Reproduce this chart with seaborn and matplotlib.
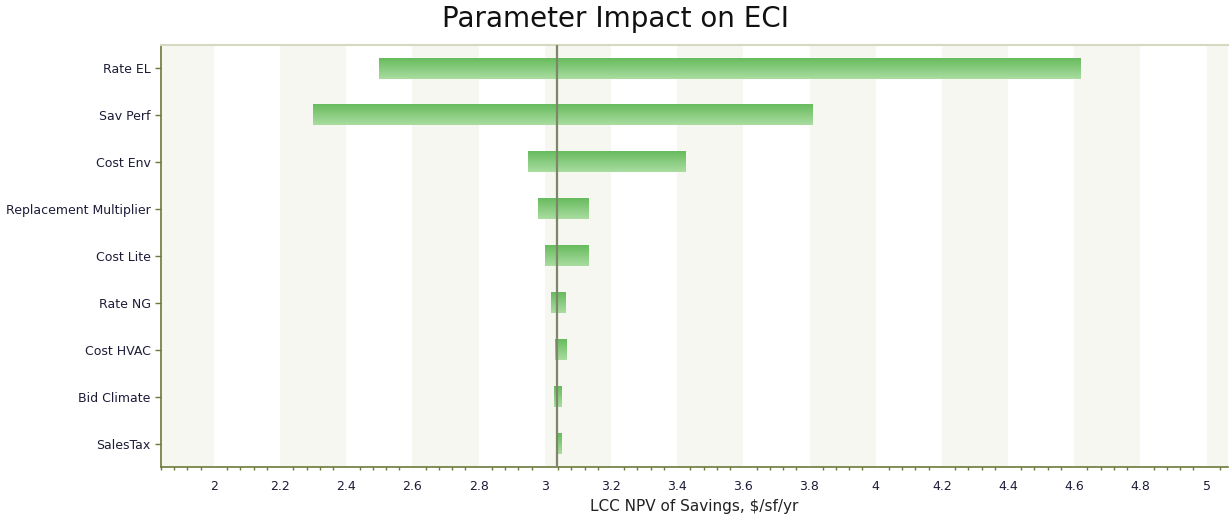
import numpy as np
import matplotlib.pyplot as plt
import seaborn as sns
from matplotlib.colors import LinearSegmentedColormap
from matplotlib.ticker import MultipleLocator

# Tornado chart data
params = ['Rate EL', 'Sav Perf', 'Cost Env', 'Replacement Multiplier', 'Cost Lite',
          'Rate NG', 'Cost HVAC', 'Bid Climate', 'SalesTax']
low_vals = [2.50, 2.30, 2.95, 2.98, 3.00, 3.02, 3.03, 3.027, 3.033]
high_vals = [4.62, 3.81, 3.425, 3.133, 3.13, 3.063, 3.066, 3.051, 3.051]
baseline = 3.038

sns.set_theme(style="white")
plt.rcParams['font.family'] = ['DejaVu Sans']

fig = plt.figure(figsize=(12.31, 5.2), dpi=100)
ax = fig.add_axes([0.1308, 0.1019, 0.8668, 0.8116])

x_min, x_max = 1.84, 5.065
ypos = np.arange(len(params))
bar_h = 0.43

# alternating background bands (shaded on 1.8-2.0, 2.2-2.4, ...)
band_col = '#f6f7f1'
for k in range(9, 26):
    if k % 2 == 1:
        ax.axvspan(k * 0.2, (k + 1) * 0.2, color=band_col, lw=0, zorder=0)

# gradient bars
grad = LinearSegmentedColormap.from_list('g', ['#68bb5e', '#a9dda0'])
g = np.linspace(0, 1, 50).reshape(-1, 1)
for y, lo, hi in zip(ypos, low_vals, high_vals):
    ax.imshow(g, cmap=grad, aspect='auto', interpolation='bicubic',
              extent=[lo, hi, y + bar_h / 2, y - bar_h / 2], zorder=2)

ax.axvline(baseline, color='#7d8668', lw=1.6, zorder=4)

ax.set_xlim(x_min, x_max)
ax.set_ylim(len(params) - 0.5, -0.5)
ax.set_yticks(ypos)
ax.set_yticklabels(params)
ax.xaxis.set_major_locator(MultipleLocator(0.2))
ax.xaxis.set_minor_locator(MultipleLocator(0.04))
ax.set_xticklabels([('%g' % t) for t in ax.get_xticks()])
ax.set_xlim(x_min, x_max)

ax.tick_params(axis='x', which='major', direction='out', length=3, width=1,
               color='#6b7a3a', labelsize=9, labelcolor='#1c1c38', pad=6)
ax.tick_params(axis='x', which='minor', direction='out', length=2, width=1,
               color='#6b7a3a', bottom=True)
ax.tick_params(axis='y', direction='out', length=4, width=1, color='#6b7a3a',
               labelsize=9, labelcolor='#1c1c38', left=True)

for s in ['left', 'bottom']:
    ax.spines[s].set_color('#6b7a3a')
    ax.spines[s].set_linewidth(1.2)
ax.spines['top'].set_color('#d5d9bf')
ax.spines['top'].set_linewidth(1.5)
ax.spines['right'].set_visible(False)

ax.set_xlabel('LCC NPV of Savings, $/sf/yr', fontsize=11, color='#222222', labelpad=5)
fig.suptitle('Parameter Impact on ECI', fontsize=20, y=0.99, color='#111111')

fig.savefig('out.png', dpi=100)
